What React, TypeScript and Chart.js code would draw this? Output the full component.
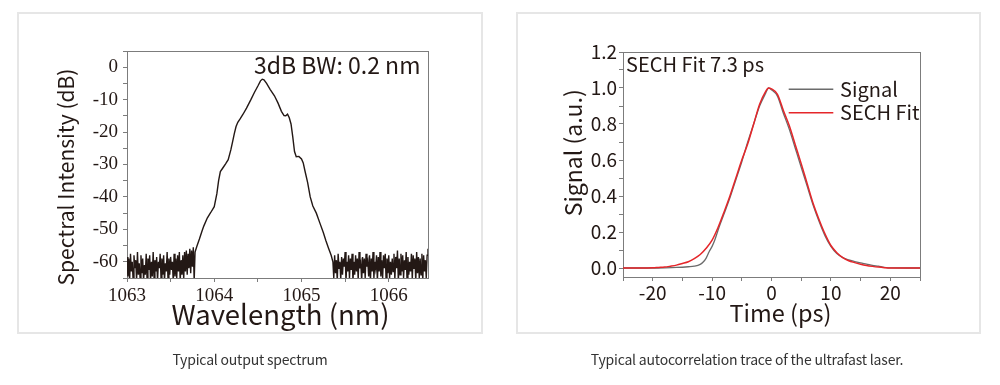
import { useEffect, useRef } from 'react';
import { Chart, registerables } from 'chart.js';

Chart.register(...registerables);

const SANS = '"Noto Sans CJK SC", "Noto Sans", sans-serif';
const SERIF = '"Liberation Serif", "DejaVu Serif", serif';
const INK = '#231815';
const FRAME = '#7c7c7c';

// ---------- Spectrum data ----------
const noiseLeftStart = 1063.0;
const noiseRightStart = 1065.36;
const noiseStep = 0.01;
const noiseLeft = [
  -58.5, -64.5, -59, -66, -57.5, -63, -60, -65.5, -58, -62, -59.5, -66, -57, -64, -60.5, -65, -58, -63.5, -59, -66,
  -61, -64, -57.5, -65.5, -59, -62.5, -58, -66, -60, -64.5, -57, -65, -59.5, -63, -58.5, -66, -60, -62, -57.5, -65,
  -59, -64, -58, -66, -60.5, -63, -57, -65.5, -59, -64, -58.5, -62.5, -60, -66, -57.5, -64.5, -59, -65, -58, -63,
  -57, -66, -59.5, -64, -58, -65.5, -57, -63, -56.5, -64, -57.5, -62, -56, -63.5, -56.5, -61.5, -55.5, -66,
];
const peakWavelengths = [
  1063.78, 1063.8, 1063.83, 1063.86, 1063.88, 1063.92, 1063.96, 1064.0, 1064.03, 1064.05, 1064.07, 1064.1,
  1064.13, 1064.16, 1064.19, 1064.21, 1064.23, 1064.25, 1064.27, 1064.3, 1064.33, 1064.37, 1064.42, 1064.46,
  1064.5, 1064.53, 1064.55, 1064.57, 1064.6, 1064.64, 1064.69, 1064.73, 1064.77, 1064.8, 1064.82, 1064.84,
  1064.86, 1064.88, 1064.9, 1064.92, 1064.94, 1064.97, 1065.0, 1065.02, 1065.04, 1065.07, 1065.1, 1065.13,
  1065.17, 1065.21, 1065.25, 1065.28, 1065.31, 1065.34,
];
const peakIntensities = [
  -57, -55.3, -53, -50.5, -49, -46.5, -44.8, -43, -39, -35, -32.2, -31, -29.8, -28.5, -25.5, -23, -20.5, -18.3,
  -17, -15.8, -14.5, -12.6, -10, -7.8, -5.8, -4.2, -3.7, -3.9, -5, -6.8, -8.8, -11, -13.6, -14.9, -15, -14.5,
  -15.6, -17.5, -21.5, -26, -27.6, -27.5, -28.3, -29.5, -32, -35.5, -40, -42.8, -45, -48, -51, -53.5, -55.8, -58,
];
const noiseRight = [
  -60, -65, -58, -63.5, -59.5, -66, -57.5, -62, -60, -65.5, -58.5, -64, -59, -61.5, -57, -66, -60, -63, -58, -65,
  -59, -62.5, -57.5, -66, -60, -64, -58, -63, -59, -65.5, -57, -62, -60.5, -66, -58.5, -63.5, -59, -65, -57.5, -61.5,
  -60, -64.5, -58, -66, -59, -63, -57, -65, -60, -62, -58, -66, -58.5, -63, -57, -64.5, -59.5, -65, -58, -62,
  -57.5, -66, -59, -63.5, -58, -65, -60, -64, -59, -63, -57.5, -65.5, -58.5, -62, -56.5, -66, -59, -64, -57.5, -63,
  -58, -65, -59.5, -62.5, -57, -66, -58.5, -64, -60, -63, -57.5, -65.5, -58, -62, -59, -66, -57, -63.5, -58.5, -65,
  -59, -64, -57.5, -66, -58, -63, -59.5, -65, -58, -56,
];
const wavelengthTickLabels = [1063, 1064, 1065, 1066];
const intensityTickLabels = [0, -10, -20, -30, -40, -50, -60];

// ---------- Autocorrelation data ----------
const signalTimes = [
  -25, -20, -18, -16, -14, -13, -12, -11.5, -11, -10.5, -10, -9.5, -9, -8, -7, -6, -5, -4, -3, -2, -1, -0.5, 0,
  1, 2, 3, 4, 5, 6, 7, 8, 9, 10, 11, 12, 13, 14, 15, 16, 17, 18, 19, 20, 25,
];
const signalValues = [
  0, 0, 0.001, 0.003, 0.007, 0.01, 0.02, 0.033, 0.055, 0.09, 0.12, 0.16, 0.21, 0.3, 0.39, 0.49, 0.59, 0.7, 0.8,
  0.9, 0.97, 1.0, 0.99, 0.955, 0.86, 0.77, 0.665, 0.56, 0.455, 0.35, 0.26, 0.18, 0.12, 0.08, 0.058, 0.045, 0.036,
  0.028, 0.022, 0.015, 0.01, 0.004, 0.001, 0,
];
const fitTimes = [
  -25, -22, -20, -19, -18, -17, -16, -15, -14, -13, -12, -11, -10, -9, -8, -7, -6, -5, -4, -3, -2, -1, -0.5, 0,
  1, 2, 3, 4, 5, 6, 7, 8, 9, 10, 11, 12, 13, 14, 15, 16, 17, 18, 19, 20, 22, 25,
];
const fitValues = [
  0, 0, 0.001, 0.003, 0.005, 0.01, 0.016, 0.025, 0.035, 0.052, 0.075, 0.11, 0.155, 0.225, 0.31, 0.4, 0.5, 0.6,
  0.69, 0.8, 0.91, 0.98, 1.0, 0.995, 0.965, 0.875, 0.79, 0.685, 0.58, 0.47, 0.36, 0.27, 0.19, 0.125, 0.085,
  0.058, 0.04, 0.03, 0.021, 0.014, 0.009, 0.005, 0.002, 0, 0, 0,
];
const timeTickLabels = [-20, -10, 0, 10, 20];
const signalTickLabels = [0, 0.2, 0.4, 0.6, 0.8, 1.0, 1.2];

const near = (list: number[], v: number) => list.some((l) => Math.abs(l - v) < 1e-6);

type Area = { left: number; top: number; right: number; bottom: number };
type TextItem = {
  text: string;
  size: number;
  pos: (a: Area) => [number, number];
  align?: CanvasTextAlign;
  baseline?: CanvasTextBaseline;
  rotate?: number;
};

const framePlugin = {
  id: 'frame',
  beforeDatasetsDraw(chart: any) {
    const { ctx, chartArea: a } = chart;
    ctx.save();
    ctx.strokeStyle = FRAME;
    ctx.lineWidth = 1;
    ctx.strokeRect(Math.round(a.left) + 0.5, Math.round(a.top) + 0.5, Math.round(a.right - a.left), Math.round(a.bottom - a.top));
    ctx.restore();
  },
};

const textPlugin = (items: TextItem[]) => ({
  id: 'texts',
  afterDraw(chart: any) {
    const { ctx, chartArea } = chart;
    ctx.save();
    ctx.fillStyle = INK;
    for (const it of items) {
      const [x, y] = it.pos(chartArea);
      ctx.save();
      ctx.translate(x, y);
      if (it.rotate) ctx.rotate(it.rotate);
      ctx.font = `${it.size}px ${SANS}`;
      ctx.textAlign = it.align || 'center';
      ctx.textBaseline = it.baseline || 'middle';
      ctx.fillText(it.text, 0, 0);
      ctx.restore();
    }
    ctx.restore();
  },
});

const legendPlugin = {
  id: 'lineLegend',
  afterDraw(chart: any) {
    const { ctx, chartArea: a } = chart;
    const rows = [37.3, 60.7];
    ctx.save();
    chart.data.datasets.forEach((ds: any, i: number) => {
      const y = a.top + rows[i];
      ctx.strokeStyle = ds.borderColor;
      ctx.lineWidth = 1.5;
      ctx.beginPath();
      ctx.moveTo(a.left + 165.7, y);
      ctx.lineTo(a.left + 210.3, y);
      ctx.stroke();
      ctx.fillStyle = INK;
      ctx.font = `20px ${SANS}`;
      ctx.textAlign = 'left';
      ctx.textBaseline = 'middle';
      ctx.fillText(ds.label, a.left + 217, y);
    });
    ctx.restore();
  },
};

function SpectrumChart() {
  const ref = useRef<HTMLCanvasElement>(null);
  useEffect(() => {
    const points = [
      ...noiseLeft.map((y, i) => ({ x: noiseLeftStart + i * noiseStep, y })),
      ...peakWavelengths.map((x, i) => ({ x, y: peakIntensities[i] })),
      ...noiseRight.map((y, i) => ({ x: noiseRightStart + i * noiseStep, y })),
    ];
    const chart = new Chart(ref.current!, {
      type: 'line',
      data: {
        datasets: [
          {
            label: 'Spectrum',
            data: points,
            borderColor: INK,
            borderWidth: 1.4,
            pointRadius: 0,
            tension: 0,
            fill: false,
          },
        ],
      },
      options: {
        responsive: false,
        animation: false,
        events: [],
        layout: { padding: { left: 0, top: 51, right: 72, bottom: 52 } },
        plugins: { legend: { display: false }, tooltip: { enabled: false } },
        scales: {
          x: {
            type: 'linear',
            min: 1063,
            max: 1066.45,
            afterFit: (s: any) => {
              s.height = 55;
            },
            ticks: {
              stepSize: 0.5,
              includeBounds: false,
              autoSkip: false,
              maxRotation: 0,
              padding: 3,
              color: INK,
              font: { family: SERIF, size: 19, lineHeight: 1.2 },
              callback: (v: any) => (near(wavelengthTickLabels, Number(v)) ? String(Math.round(Number(v))) : ''),
            },
            grid: { drawOnChartArea: false, drawTicks: true, tickLength: 4, color: FRAME },
            border: { color: FRAME },
          },
          y: {
            type: 'linear',
            min: -65,
            max: 5,
            afterFit: (s: any) => {
              s.width = 127;
            },
            ticks: {
              stepSize: 5,
              includeBounds: false,
              autoSkip: false,
              padding: 5,
              color: INK,
              font: { family: SERIF, size: 19 },
              callback: (v: any) => (near(intensityTickLabels, Number(v)) ? String(Math.round(Number(v))) : ''),
            },
            grid: { drawOnChartArea: false, drawTicks: true, tickLength: 4, color: FRAME },
            border: { color: FRAME },
          },
        },
      },
      plugins: [
        framePlugin,
        textPlugin([
          { text: '3dB BW: 0.2 nm', size: 23, align: 'left', baseline: 'alphabetic', pos: (a) => [a.left + 127, a.top + 23] },
          { text: 'Wavelength (nm)', size: 27.5, pos: (a) => [(a.left + a.right) / 2 + 3, a.bottom + 37] },
          { text: 'Spectral Intensity (dB)', size: 21, rotate: -Math.PI / 2, pos: (a) => [a.left - 61, a.top + 126] },
        ]),
      ],
    } as any);
    return () => chart.destroy();
  }, []);
  return <canvas ref={ref} width={500} height={385} style={{ position: 'absolute', left: 0, top: 0, width: 500, height: 385 }} />;
}

function AutocorrelationChart() {
  const ref = useRef<HTMLCanvasElement>(null);
  useEffect(() => {
    const chart = new Chart(ref.current!, {
      type: 'line',
      data: {
        datasets: [
          {
            label: 'Signal',
            data: signalTimes.map((x, i) => ({ x, y: signalValues[i] })),
            borderColor: '#6b6b6b',
            borderWidth: 1.3,
            pointRadius: 0,
            cubicInterpolationMode: 'monotone',
            fill: false,
            order: 2,
          },
          {
            label: 'SECH Fit',
            data: fitTimes.map((x, i) => ({ x, y: fitValues[i] })),
            borderColor: '#e5262a',
            borderWidth: 1.5,
            pointRadius: 0,
            cubicInterpolationMode: 'monotone',
            fill: false,
            order: 1,
          },
        ],
      },
      options: {
        responsive: false,
        animation: false,
        events: [],
        layout: { padding: { left: 0, top: 52, right: 80, bottom: 52 } },
        plugins: { legend: { display: false }, tooltip: { enabled: false } },
        scales: {
          x: {
            type: 'linear',
            min: -25,
            max: 25,
            afterFit: (s: any) => {
              s.height = 56;
            },
            ticks: {
              stepSize: 5,
              includeBounds: false,
              autoSkip: false,
              maxRotation: 0,
              padding: 0,
              color: INK,
              font: { family: SANS, size: 19, lineHeight: 1.2 },
              callback: (v: any) => (near(timeTickLabels, Number(v)) ? String(Math.round(Number(v))) : ''),
            },
            grid: { drawOnChartArea: false, drawTicks: true, tickLength: 4, color: FRAME },
            border: { color: FRAME },
          },
          y: {
            type: 'linear',
            min: -0.05,
            max: 1.2,
            afterFit: (s: any) => {
              s.width = 123;
            },
            ticks: {
              stepSize: 0.1,
              includeBounds: false,
              autoSkip: false,
              padding: 2,
              color: INK,
              font: { family: SANS, size: 19 },
              callback: (v: any) => (near(signalTickLabels, Number(v)) ? Number(v).toFixed(1) : ''),
            },
            grid: { drawOnChartArea: false, drawTicks: true, tickLength: 4, color: FRAME },
            border: { color: FRAME },
          },
        },
      },
      plugins: [
        framePlugin,
        legendPlugin,
        textPlugin([
          { text: 'SECH Fit 7.3 ps', size: 20, align: 'left', baseline: 'alphabetic', pos: (a) => [a.left + 3, a.top + 19.7] },
          { text: 'Time (ps)', size: 23.5, pos: (a) => [a.left + 157.5, a.bottom + 36.3] },
          { text: 'Signal (a.u.)', size: 23, rotate: -Math.PI / 2, pos: (a) => [a.left - 50, a.top + 100.8] },
        ]),
      ],
    } as any);
    return () => chart.destroy();
  }, []);
  return <canvas ref={ref} width={500} height={385} style={{ position: 'absolute', left: 500, top: 0, width: 500, height: 385 }} />;
}

const boxStyle = (left: number, width: number): React.CSSProperties => ({
  position: 'absolute',
  left,
  top: 12,
  width,
  height: 322,
  border: '2px solid #e6e6e6',
  boxSizing: 'border-box',
});

const captionStyle = (left: number): React.CSSProperties => ({
  position: 'absolute',
  left,
  top: 349,
  width: 500,
  textAlign: 'center',
  fontFamily: SANS,
  fontSize: 14,
  lineHeight: '20px',
  color: '#333',
  letterSpacing: '-0.2px',
});

export default function App() {
  return (
    <div style={{ position: 'fixed', left: 0, top: 0, width: 1000, height: 385, background: '#fff', overflow: 'hidden' }}>
      <div style={boxStyle(17, 466)} />
      <div style={boxStyle(516, 465)} />
      <SpectrumChart />
      <AutocorrelationChart />
      <div style={captionStyle(0)}>Typical output spectrum</div>
      <div style={captionStyle(497)}>Typical autocorrelation trace of the ultrafast laser.</div>
    </div>
  );
}
